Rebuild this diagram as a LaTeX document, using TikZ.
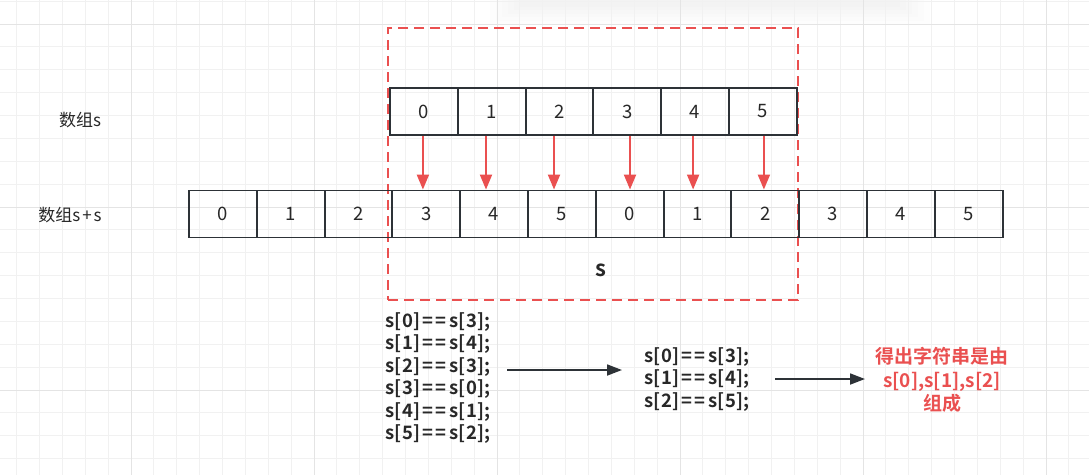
\documentclass[tikz,border=0pt]{standalone}
\usepackage{fontspec}
\setmainfont{Noto Sans CJK SC}[BoldFont={* Bold}]
\usetikzlibrary{arrows.meta,calc}
\definecolor{rd}{RGB}{234,80,80}
\definecolor{ink}{RGB}{45,50,55}
\definecolor{txt}{RGB}{40,40,40}
\definecolor{gmin}{RGB}{241,241,241}
\definecolor{gmaj}{RGB}{228,228,228}
\newcommand{\eqq}{\kern2.5pt=\kern2pt=\kern2.5pt}
\tikzset{
  cell/.style={draw=ink, line width=1.9pt, minimum width=67.8pt, minimum height=47pt, inner sep=0pt, font=\fontsize{18.5}{20}\selectfont, text=txt},
  redarr/.style={draw=rd, line width=2pt, -{Triangle[length=15pt,width=12pt]}},
  blkarr/.style={draw=ink, line width=1.7pt, -{Triangle[length=15pt,width=11pt]}},
  code/.style={align=left, inner sep=0pt, font=\fontsize{18.5}{22.4}\selectfont\bfseries\addfontfeature{LetterSpace=2}, text=txt},
  lbl/.style={inner sep=0pt, font=\fontsize{17}{18}\selectfont, text=txt}
}
\begin{document}
\begin{tikzpicture}[x=1pt,y=-1pt]
\useasboundingbox[fill=white] (0,0) rectangle (1089,475);
% faint soft shadow band at top
\foreach \k in {0,...,5} {
  \fill[black, opacity=0.007] (490+6*\k,0) rectangle (930-6*\k,24-3.5*\k);
}
% grid
\foreach \i in {0,...,47} {
  \pgfmathsetmacro{\xx}{16.6+\i*22.875}
  \draw[gmin, line width=0.8pt] (\xx,0) -- (\xx,475);
}
\foreach \i in {0,...,20} {
  \pgfmathsetmacro{\yy}{1.1+\i*22.875}
  \draw[gmin, line width=0.8pt] (0,\yy) -- (1089,\yy);
}
\foreach \i in {0,...,5} {
  \pgfmathsetmacro{\xx}{131+\i*183}
  \draw[gmaj, line width=0.9pt] (\xx,0) -- (\xx,475);
}
\foreach \i in {0,...,2} {
  \pgfmathsetmacro{\yy}{24+\i*183}
  \draw[gmaj, line width=0.9pt] (0,\yy) -- (1089,\yy);
}
% red dashed frame
\node[draw=rd, line width=1.7pt, dash pattern=on 10pt off 6pt, minimum width=410pt, minimum height=272pt, inner sep=0pt] (frame) at (593,164) {};
\node[inner sep=0pt, font=\fontsize{22}{24}\selectfont\bfseries, text=txt] (slab) at (601,270) {s};
% labels
\node[lbl] (la) at (80,120) {数组s};
\node[lbl] (lb) at (70,215) {数组s\kern2pt+\kern2pt s};
% top array
\foreach \v [count=\i from 0] in {0,1,2,3,4,5} {
  \node[cell] (t\i) at (390+67.8*\i+33.9,111.5) {\v};
}
% bottom array
\foreach \v [count=\i from 0] in {0,1,2,3,4,5,0,1,2,3,4,5} {
  \node[cell] (b\i) at (189+67.8*\i+33.9,214) {\v};
}
% red arrows
\foreach \i/\dx in {0/-1,1/-5.7,2/-5.5,3/2.7,4/-2,5/1} {
  \pgfmathtruncatemacro{\j}{\i+3}
  \draw[redarr] ([xshift=\dx pt]t\i.south) -- ([xshift=\dx pt]t\i.south |- b\j.north);
}
% code blocks
\node[code, anchor=west] (L) at (385,378) {s[0]\eqq s[3];\\s[1]\eqq s[4];\\s[2]\eqq s[3];\\s[3]\eqq s[0];\\s[4]\eqq s[1];\\s[5]\eqq s[2];};
\node[code, anchor=west] (M) at (644,379.5) {s[0]\eqq s[3];\\s[1]\eqq s[4];\\s[2]\eqq s[5];};
\node[code, align=center, text=rd, font=\fontsize{19}{23.5}\selectfont\bfseries] (R) at (942,380) {得出字符串是由\\s[0],s[1],s[2]\\组成};
\coordinate (a1s) at (507,370);
\coordinate (a1e) at (622,370);
\coordinate (a2s) at (775,379);
\coordinate (a2e) at (865,379);
\draw[blkarr] (a1s) -- (a1e);
\draw[blkarr] (a2s) -- (a2e);
\end{tikzpicture}
\end{document}
